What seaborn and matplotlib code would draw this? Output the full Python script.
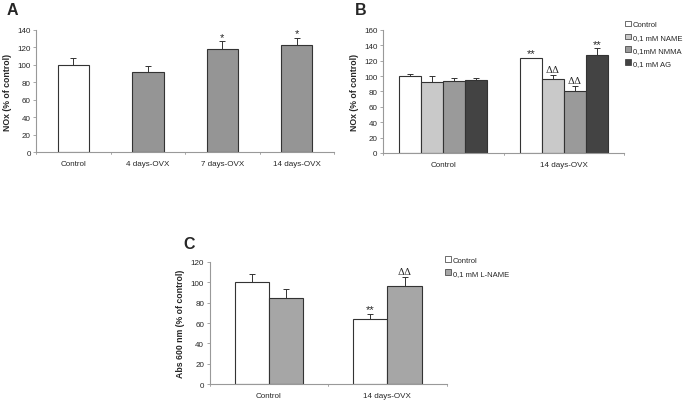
import matplotlib
matplotlib.use("Agg")
import matplotlib.pyplot as plt
import numpy as np
import pandas as pd
import seaborn as sns

# panel A
a_groups = ["Control", "4 days-OVX", "7 days-OVX", "14 days-OVX"]
a_means = [100, 92, 118, 123]
a_errs = [8, 7, 9, 8]
a_marks = ["", "", "*", "*"]

# panel B
b_groups = ["Control", "14 days-OVX"]
b_treat = ["Control", "0,1 mM NAME", "0,1mM NMMA", "0,1 mM AG"]
b_means = {"Control": [100, 123], "0,1 mM NAME": [92, 96],
           "0,1mM NMMA": [93, 81], "0,1 mM AG": [95, 128]}
b_errs = {"Control": [3, 1], "0,1 mM NAME": [8, 5],
          "0,1mM NMMA": [4, 6], "0,1 mM AG": [3, 8]}
b_marks = {"Control": ["", "**"], "0,1 mM NAME": ["", "ΔΔ"],
           "0,1mM NMMA": ["", "ΔΔ"], "0,1 mM AG": ["", "**"]}

# panel C
c_groups = ["Control", "14 days-OVX"]
c_treat = ["Control", "0,1 mM L-NAME"]
c_means = {"Control": [100, 64], "0,1 mM L-NAME": [85, 96]}
c_errs = {"Control": [8, 5], "0,1 mM L-NAME": [8, 9]}
c_marks = {"Control": ["", "**"], "0,1 mM L-NAME": ["", "ΔΔ"]}

sns.set_style("white")
plt.rcParams["font.family"] = ["Liberation Sans", "DejaVu Sans"]
FS = 5.8
EDGE = "#333333"
AXC = "#999999"


def style_axis(ax, ymax, step, ncat):
    ax.set_ylim(0, ymax)
    ax.set_yticks(np.arange(0, ymax + 1, step))
    ax.set_xlim(-0.5, ncat - 0.5)
    sns.despine(ax=ax)
    for s in ["left", "bottom"]:
        ax.spines[s].set_color(AXC)
        ax.spines[s].set_linewidth(0.8)
    ax.tick_params(axis="y", length=2.5, width=0.6, color=AXC, labelsize=FS, pad=1.5, left=True)
    # category boundary ticks like Excel
    ax.set_xticks(np.arange(ncat))
    ax.set_xticklabels(ax.get_xticklabels(), fontsize=FS)
    ax.tick_params(axis="x", length=0, labelsize=FS, pad=6)
    for b in np.arange(-0.5, ncat, 1.0):
        ax.plot([b, b], [0, -ymax * 0.015], color=AXC, lw=0.6, clip_on=False)
    ax.set_xlabel("")


def add_err(ax, bars, means, errs, marks, ymax):
    for bar, m, e, t in zip(bars, means, errs, marks):
        cx = bar.get_x() + bar.get_width() / 2
        ax.errorbar(cx, m, yerr=[[0], [e]], fmt="none", ecolor=EDGE,
                    elinewidth=0.7, capsize=2.2, capthick=0.7)
        if t == "ΔΔ":
            ax.text(cx, m + e + ymax * 0.01, t, ha="center", va="bottom",
                    fontsize=FS + 1.2, family=["DejaVu Serif"])
        elif t:
            ax.text(cx, m + e - ymax * 0.005, t, ha="center", va="bottom",
                    fontsize=FS + 2.2)


def style_legend(ax, anchor):
    leg = ax.legend(loc="upper left", bbox_to_anchor=anchor, frameon=False,
                    fontsize=FS - 0.3, handlelength=0.75, handleheight=0.75,
                    handletextpad=0.3, labelspacing=0.7, borderaxespad=0)
    for h in leg.legend_handles:
        h.set_edgecolor(EDGE)
        h.set_linewidth(0.5)


fig = plt.figure(figsize=(6.83, 4.02), dpi=100)

# ---- A
axA = fig.add_axes([0.053, 0.619, 0.436, 0.304])
dfA = pd.DataFrame({"group": a_groups, "val": a_means})
sns.barplot(data=dfA, x="group", y="val", hue="group", legend=False,
            palette=["white", "#959595", "#959595", "#959595"],
            width=0.42, edgecolor=EDGE, linewidth=0.8, errorbar=None, ax=axA)
style_axis(axA, 140, 20, 4)
axA.set_ylabel("NOx (% of control)", fontsize=FS + 0.5, fontweight="bold", labelpad=4)
barsA = [c[0] for c in axA.containers]
add_err(axA, barsA, a_means, a_errs, a_marks, 140)

# ---- B
axB = fig.add_axes([0.561, 0.617, 0.353, 0.306])
dfB = pd.DataFrame([(g, t, b_means[t][i]) for t in b_treat for i, g in enumerate(b_groups)],
                   columns=["group", "treat", "val"])
sns.barplot(data=dfB, x="group", y="val", hue="treat", hue_order=b_treat,
            palette=["white", "#c9c9c9", "#9a9a9a", "#434343"],
            width=0.73, edgecolor=EDGE, linewidth=0.8, errorbar=None, ax=axB)
style_axis(axB, 160, 20, 2)
axB.set_ylabel("NOx (% of control)", fontsize=FS + 0.5, fontweight="bold", labelpad=4)
for cont, t in zip(axB.containers, b_treat):
    add_err(axB, list(cont), b_means[t], b_errs[t], b_marks[t], 160)
style_legend(axB, (0.99, 1.1))

# ---- C
axC = fig.add_axes([0.307, 0.042, 0.347, 0.304])
dfC = pd.DataFrame([(g, t, c_means[t][i]) for t in c_treat for i, g in enumerate(c_groups)],
                   columns=["group", "treat", "val"])
sns.barplot(data=dfC, x="group", y="val", hue="treat", hue_order=c_treat,
            palette=["white", "#a6a6a6"],
            width=0.58, edgecolor=EDGE, linewidth=0.8, errorbar=None, ax=axC)
style_axis(axC, 120, 20, 2)
axC.set_ylabel("Abs 600 nm (% of control)", fontsize=FS + 0.5, fontweight="bold", labelpad=4)
for cont, t in zip(axC.containers, c_treat):
    add_err(axC, list(cont), c_means[t], c_errs[t], c_marks[t], 120)
style_legend(axC, (0.98, 1.07))

# panel letters
fig.text(0.009, 0.974, "A", fontsize=11.5, fontweight="bold", va="center")
fig.text(0.519, 0.974, "B", fontsize=11.5, fontweight="bold", va="center")
fig.text(0.268, 0.393, "C", fontsize=11.5, fontweight="bold", va="center")

fig.savefig("out.png", dpi=100)
